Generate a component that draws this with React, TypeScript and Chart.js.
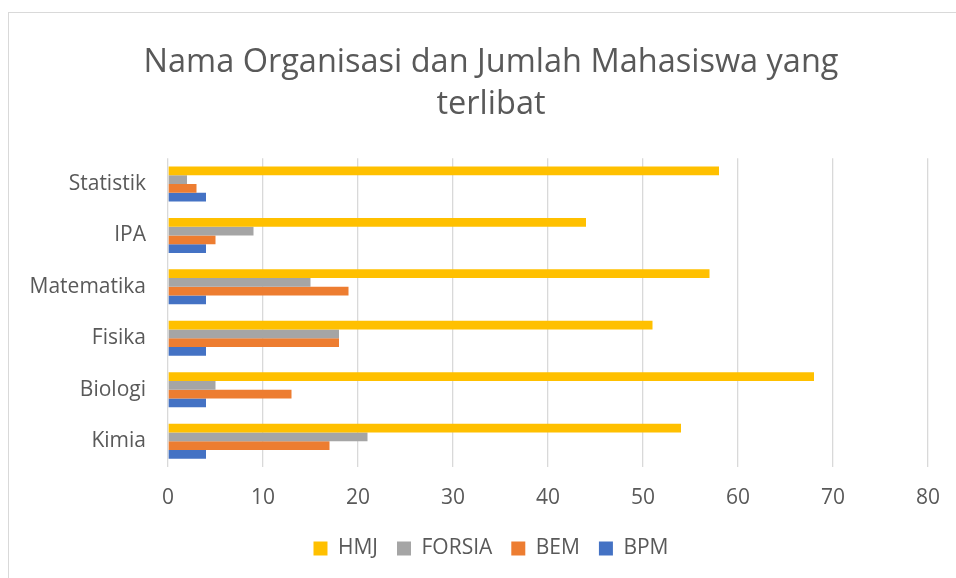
import React, { useEffect, useRef } from "react";
import { Chart, registerables } from "chart.js";

Chart.register(...registerables);

const categories = ["Statistik", "IPA", "Matematika", "Fisika", "Biologi", "Kimia"];
const hmj = [58, 44, 57, 51, 68, 54];
const forsia = [2, 9, 15, 18, 5, 21];
const bem = [3, 5, 19, 18, 13, 17];
const bpm = [4, 4, 4, 4, 4, 4];
const seriesNames = ["HMJ", "FORSIA", "BEM", "BPM"];
const seriesColors = ["#FFC000", "#A5A5A5", "#ED7D31", "#4472C4"];
const titleLines = ["Nama Organisasi dan Jumlah Mahasiswa yang", "terlibat"];
const xMin = 0;
const xMax = 80;
const xStep = 10;

const FONT = "'Open Sans', 'Noto Sans', sans-serif";
const TEXT = "#595959";
const GRID = "#d9d9d9";

export default function App() {
  const ref = useRef<HTMLCanvasElement | null>(null);

  useEffect(() => {
    document.body.style.margin = "0";
    document.body.style.overflow = "hidden";
    if (!ref.current) return;
    const series = [hmj, forsia, bem, bpm];
    const chart = new Chart(ref.current, {
      type: "bar",
      data: {
        labels: categories,
        datasets: series.map((d, i) => ({
          label: seriesNames[i],
          data: d,
          backgroundColor: seriesColors[i],
          borderWidth: 0,
          categoryPercentage: 0.68,
          barPercentage: 1.0,
        })),
      },
      options: {
        indexAxis: "y",
        animation: false,
        responsive: false,
        maintainAspectRatio: false,
        layout: { padding: { left: 26, right: 0, top: 0, bottom: 9 } },
        plugins: {
          tooltip: { enabled: false },
          title: {
            display: true,
            text: titleLines,
            color: TEXT,
            font: { family: FONT, size: 32.5, weight: "normal", lineHeight: 1.28 },
            padding: { top: 42, bottom: 33 },
          },
          legend: {
            display: true,
            position: "bottom",
            labels: {
              color: TEXT,
              font: { family: FONT, size: 21 },
              boxWidth: 14,
              boxHeight: 14,
              padding: 19,
            },
          },
        },
        scales: {
          x: {
            type: "linear",
            position: "bottom",
            min: xMin,
            max: xMax,
            ticks: {
              stepSize: xStep,
              color: TEXT,
              font: { family: FONT, size: 21 },
              padding: 18,
            },
            grid: { color: GRID, lineWidth: 1.3, drawTicks: false },
            border: { display: false },
            afterFit: (scale: any) => {
              scale.height = 52;
              scale.paddingRight = 28;
            },
          },
          y: {
            type: "category",
            ticks: {
              color: TEXT,
              font: { family: FONT, size: 21 },
              padding: 22,
            },
            grid: { display: false, drawTicks: false },
            border: { display: false },
            afterFit: (scale: any) => {
              scale.width = 142;
            },
          },
        },
      },
    });
    return () => chart.destroy();
  }, []);

  return (
    <div style={{ position: "relative", width: 956, height: 578, overflow: "hidden", background: "#fff" }}>
      <canvas ref={ref} width={956} height={578} style={{ position: "absolute", left: 0, top: 0, width: 956, height: 578 }} />
      <div
        style={{
          position: "absolute",
          left: 8,
          top: 12,
          width: 1000,
          height: 1000,
          borderTop: "1px solid #d9d9d9",
          borderLeft: "1px solid #d9d9d9",
          pointerEvents: "none",
        }}
      />
    </div>
  );
}
